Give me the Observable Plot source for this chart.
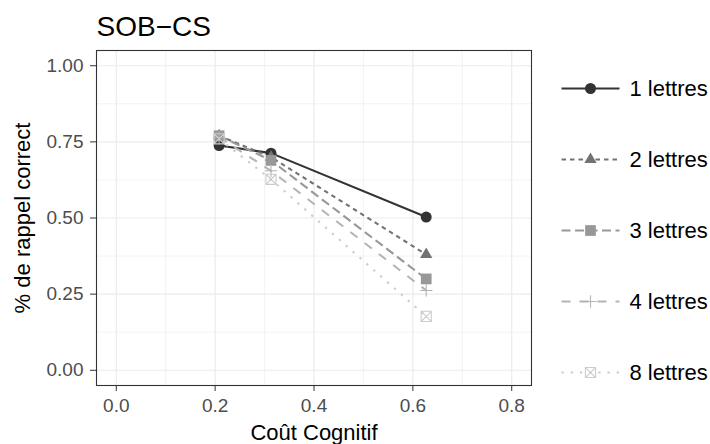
<!DOCTYPE html>
<html><head><meta charset="utf-8">
<script src="https://cdn.jsdelivr.net/npm/d3@7"></script>
<script src="https://cdn.jsdelivr.net/npm/@observablehq/plot@0.6"></script>
<style>
body{margin:0;background:#fff;}
#wrap{position:relative;width:710px;height:444px;background:#fff;}
#main{position:absolute;left:0;top:0;}
#legend{position:absolute;left:550px;top:0;}
</style></head><body>
<div id="wrap"><div id="main"></div><div id="legend"></div></div>
<script>
// ---- data ----
const series = ["1 lettres", "2 lettres", "3 lettres", "4 lettres", "8 lettres"];
const cost = [0.208, 0.313, 0.627];
const recall1 = [0.738, 0.713, 0.503];
const recall2 = [0.770, 0.700, 0.380];
const recall3 = [0.770, 0.689, 0.300];
const recall4 = [0.765, 0.655, 0.262];
const recall8 = [0.760, 0.627, 0.177];
const xTicks = [0, 0.2, 0.4, 0.6, 0.8];
const xMinor = [0.1, 0.3, 0.5, 0.7];
const yTicks = [0, 0.25, 0.5, 0.75, 1];
const yMinor = [0.125, 0.375, 0.625, 0.875];
const title = "SOB−CS";
const xLabel = "Coût Cognitif";
const yLabel = "% de rappel correct";

// ---- styles ----
const colors = ["#333333", "#737373", "#989898", "#B4B4B4", "#CCCCCC"];
const dashes = [null, "4.5,4", "9,4.5", "9,9", "2.3,6.9"];
const triangle = {draw(c, size){ const a = Math.sqrt(size)*0.63, h = a*Math.sqrt(3); c.moveTo(0,-h*2/3); c.lineTo(a,h/3); c.lineTo(-a,h/3); c.closePath(); }};
const square = {draw(c, size){ const s = Math.sqrt(size)*0.55; c.moveTo(-s,-s); c.lineTo(s,-s); c.lineTo(s,s); c.lineTo(-s,s); c.closePath(); }};
const plus = {draw(c, size){ const s = Math.sqrt(size)*0.63; c.moveTo(-s,0); c.lineTo(s,0); c.moveTo(0,-s); c.lineTo(0,s); }};
const boxX = {draw(c, size){ const s = Math.sqrt(size)*0.52; c.moveTo(-s,-s); c.lineTo(s,-s); c.lineTo(s,s); c.lineTo(-s,s); c.closePath(); c.moveTo(-s,-s); c.lineTo(s,s); c.moveTo(s,-s); c.lineTo(-s,s); }};
const symbols = ["circle", triangle, square, plus, boxX];
const filled = [true, true, true, false, false];
const font = '"Liberation Sans", Arial, Helvetica, sans-serif';

const recalls = [recall1, recall2, recall3, recall4, recall8];
const rows = series.flatMap((s, i) => cost.map((c, j) => ({series: s, cost: c, recall: recalls[i][j]})));

function dotOpts(i, extra) {
  return Object.assign({
    symbol: symbols[i], r: 5.5,
    fill: filled[i] ? colors[i] : "none",
    stroke: filled[i] ? "none" : colors[i],
    strokeWidth: 1.1
  }, extra);
}

const marks = [
  Plot.gridX(xMinor, {stroke: "#ebebeb", strokeOpacity: 1, strokeWidth: 0.6}),
  Plot.gridY(yMinor, {stroke: "#ebebeb", strokeOpacity: 1, strokeWidth: 0.6}),
  Plot.gridX(xTicks, {stroke: "#ebebeb", strokeOpacity: 1, strokeWidth: 1.2}),
  Plot.gridY(yTicks, {stroke: "#ebebeb", strokeOpacity: 1, strokeWidth: 1.2}),
];
series.forEach((s, i) => {
  marks.push(Plot.line(rows.filter(d => d.series === s), {
    x: "cost", y: "recall", stroke: colors[i], strokeWidth: 2.1,
    strokeDasharray: dashes[i], strokeLinecap: "butt"
  }));
});
series.forEach((s, i) => {
  marks.push(Plot.dot(rows.filter(d => d.series === s), dotOpts(i, {x: "cost", y: "recall"})));
});
marks.push(
  Plot.frame({stroke: "#333333", strokeWidth: 1.1}),
  Plot.axisX(xTicks, {tickSize: 6, tickPadding: 7, tickFormat: d3.format(".1f"), fontSize: 19, stroke: "#333333", fill: "#4d4d4d", label: null}),
  Plot.axisY(yTicks, {tickSize: 6, tickPadding: 7, tickFormat: d3.format(".2f"), fontSize: 19, stroke: "#333333", fill: "#4d4d4d", label: null}),
  Plot.text([xLabel], {frameAnchor: "bottom", textAnchor: "middle", lineAnchor: "bottom", dy: 54, fontSize: 22, fill: "#000"}),
  Plot.text([yLabel], {frameAnchor: "left", textAnchor: "middle", rotate: -90, lineAnchor: "bottom", dx: -67, fontSize: 22, fill: "#000"}),
  Plot.text([title], {frameAnchor: "top-left", textAnchor: "start", lineAnchor: "bottom", dy: -15, fontSize: 28, fill: "#000"})
);

const main = Plot.plot({
  width: 710, height: 444,
  marginLeft: 96, marginRight: 179, marginTop: 50, marginBottom: 59,
  style: {fontFamily: font, fontSize: "19px", background: "transparent", overflow: "visible"},
  x: {domain: [-0.04, 0.84]},
  y: {domain: [-0.05, 1.05]},
  marks
});
document.getElementById("main").append(main);

// ---- legend ----
const legRows = series.map(s => ({series: s, a: 0, b: 1, m: 0.5}));
const legMarks = [];
series.forEach((s, i) => {
  legMarks.push(Plot.link(legRows.filter(d => d.series === s), {
    x1: "a", x2: "b", y1: "series", y2: "series",
    stroke: colors[i], strokeWidth: 2.1, strokeDasharray: dashes[i], strokeLinecap: "butt"
  }));
  legMarks.push(Plot.dot(legRows.filter(d => d.series === s), dotOpts(i, {x: "m", y: "series"})));
});
legMarks.push(Plot.text(legRows, {x: "b", y: "series", text: "series", textAnchor: "start", dx: 10, fontSize: 22, fill: "#000"}));

const legend = Plot.plot({
  width: 160, height: 444,
  margin: 0,
  style: {fontFamily: font, background: "transparent", overflow: "visible"},
  x: {domain: [0, 1], range: [11, 69], axis: null},
  y: {type: "point", domain: series, range: [86, 373], padding: 0, axis: null},
  marks: legMarks
});
document.getElementById("legend").append(legend);
</script>
</body></html>
